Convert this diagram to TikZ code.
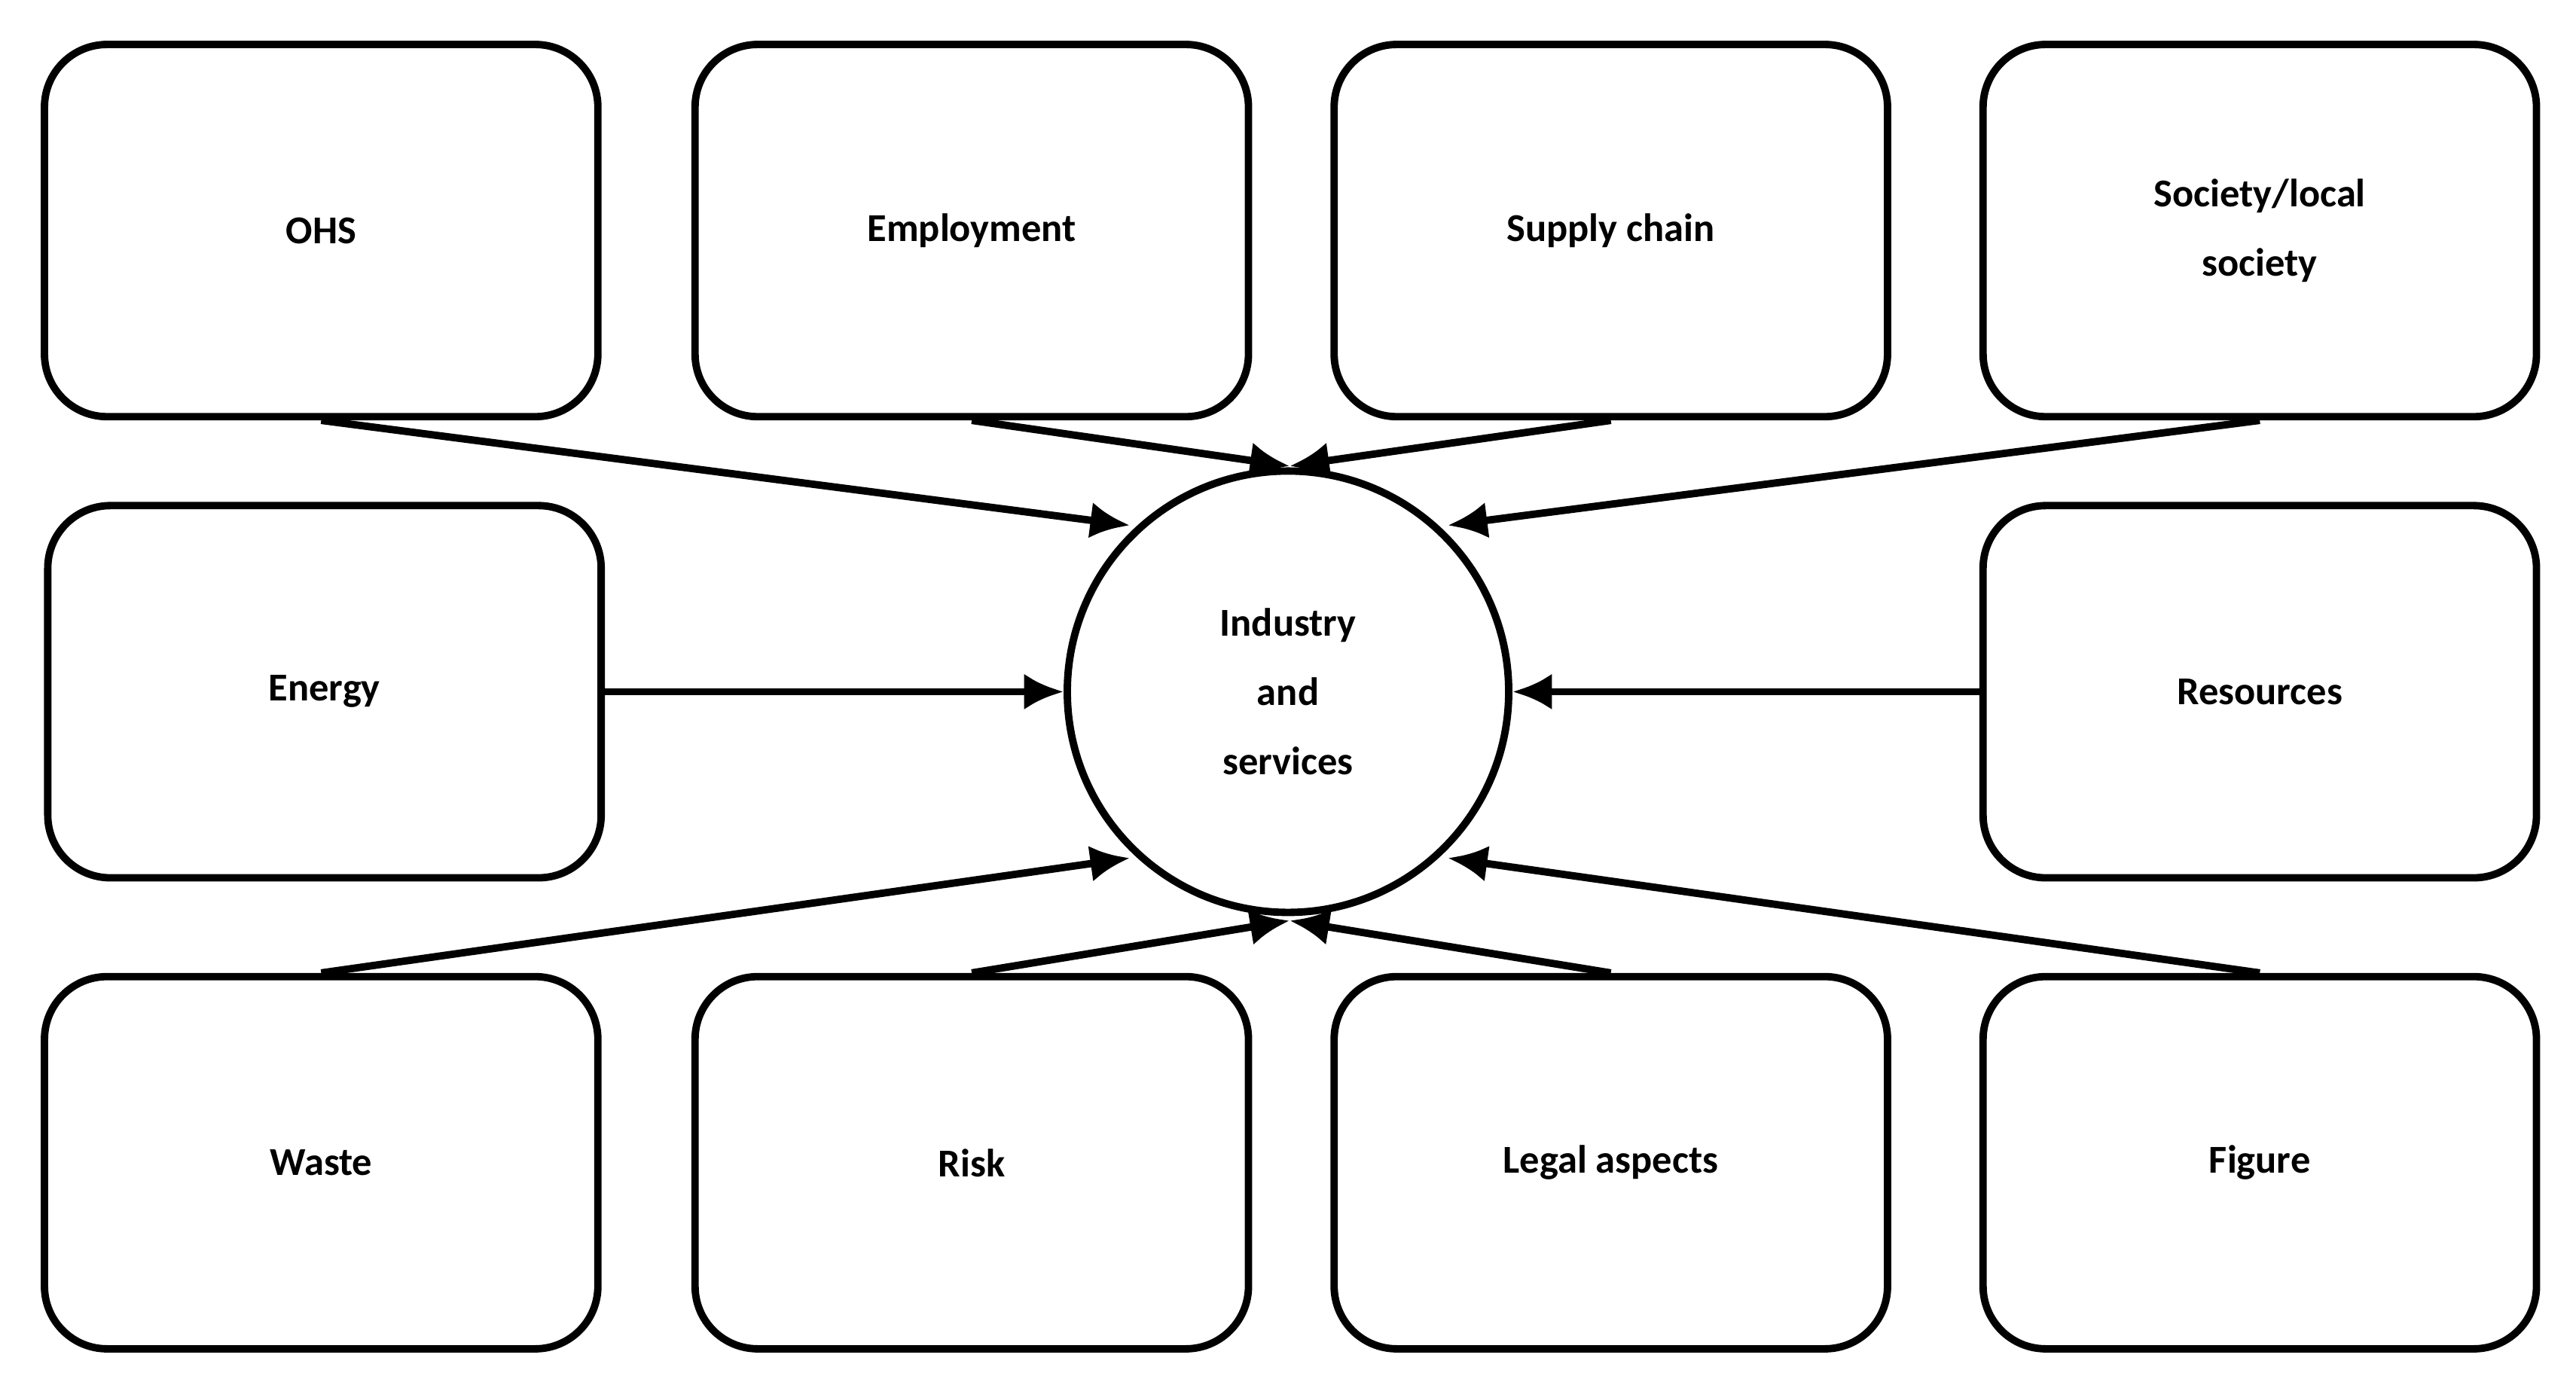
\documentclass[tikz,border=0pt]{standalone}
\usepackage{fontspec}
\setmainfont{Carlito}
\usetikzlibrary{arrows.meta}
\begin{document}
\begin{tikzpicture}[x=1pt,y=-1pt,
 box/.style={draw,line width=4.5pt,rounded corners=38pt,minimum width=336pt,minimum height=226pt,align=center,font=\fontsize{24}{42}\selectfont\bfseries},
 arr/.style={line width=4.5pt,-{Latex[length=24pt,width=22pt]}}]
\useasboundingbox (0,0) rectangle (1564,835.5);
\node[box] (ohs) at (195,140) {OHS};
\node[box] (emp) at (590,140) {Employment};
\node[box] (sup) at (978,140) {Supply chain};
\node[box] (soc) at (1372,140) {Society/local\\society};
\node[box] (ene) at (197,420) {Energy};
\node[box] (res) at (1372,420) {Resources};
\node[box] (was) at (195,706) {Waste};
\node[box] (ris) at (590,706) {Risk};
\node[box] (leg) at (978,706) {Legal aspects};
\node[box] (fig) at (1372,706) {Figure};
\node[draw,circle,line width=4.5pt,minimum size=268pt,align=center,font=\fontsize{24}{42}\selectfont\bfseries] (ind) at (782,420) {Industry\\and\\services};
\coordinate (t1) at (686,319); \coordinate (t2) at (783,283);
\coordinate (t3) at (879,319); \coordinate (b1) at (686,521);
\coordinate (b2) at (783,559); \coordinate (b3) at (879,521);
\draw[arr] (ohs.south) -- (t1);
\draw[arr] (emp.south) -- (t2);
\draw[arr] (sup.south) -- (t2);
\draw[arr] (soc.south) -- (t3);
\draw[arr] (ene.east) -- (ind.west);
\draw[arr] (res.west) -- (ind.east);
\draw[arr] (was.north) -- (b1);
\draw[arr] (ris.north) -- (b2);
\draw[arr] (leg.north) -- (b2);
\draw[arr] (fig.north) -- (b3);
\end{tikzpicture}
\end{document}
